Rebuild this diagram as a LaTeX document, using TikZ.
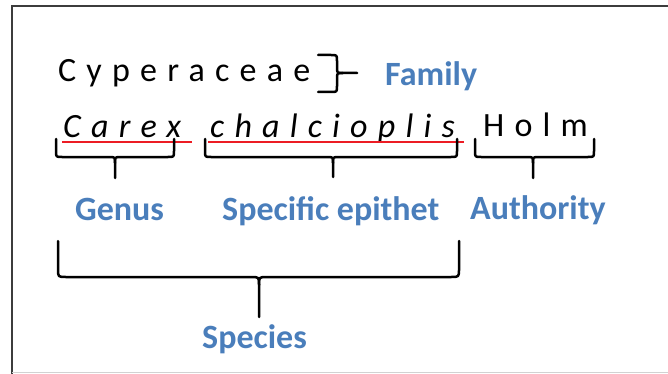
\documentclass[tikz,border=0pt]{standalone}
\usepackage{fontspec}
\setmainfont{Carlito}
\newfontfamily\spacedfont[LetterSpace=30]{Carlito}
\definecolor{labelblue}{RGB}{74,126,187}
\definecolor{markred}{RGB}{236,28,36}
\definecolor{framedark}{RGB}{60,60,60}
\definecolor{framelight}{RGB}{210,210,210}

% downward brace: left x, right x, top y, bar y, tip x, tip y, corner radius
\newcommand\downbrace[7]{%
  \draw[brace] (#1,#3) -- (#1,#4-#7) .. controls (#1,#4) .. (#1+#7,#4)
    -- (#5-#7,#4) .. controls (#5,#4) .. (#5,#4+#7) -- (#5,#6);
  \draw[brace] (#2,#3) -- (#2,#4-#7) .. controls (#2,#4) .. (#2-#7,#4)
    -- (#5+#7,#4) .. controls (#5,#4) .. (#5,#4+#7);
}

\begin{document}
\begin{tikzpicture}[x=1pt,y=-1pt,
  word/.style={inner sep=0pt,anchor=base west,
    font=\spacedfont\fontsize{34}{40}\selectfont},
  slanted/.style={word,font=\spacedfont\itshape\fontsize{34}{40}\selectfont},
  label/.style={inner sep=0pt,anchor=base west,text=labelblue,
    font=\bfseries\fontsize{34}{40}\selectfont},
  brace/.style={draw=black,line width=2.5pt,line cap=round,line join=round},
  underline/.style={draw=markred,line width=2.6pt}]
\useasboundingbox (0,0) rectangle (668,374);

% frame
\draw[framedark,line width=2.4pt] (12,374) -- (12,6) -- (668,6);
\draw[framelight,line width=1.5pt] (12,372.5) -- (668,372.5);

% names
\node[word] (fam) at (58,82) {Cyperaceae};
\node[slanted] (gen) at (63,138) {Carex};
\node[slanted] (epi) at (210,138) {chalcioplis};
\node[word] (auth) at (483,137) {Holm};

% red underlines
\coordinate (gu1) at (62,142); \coordinate (gu2) at (192,142);
\coordinate (eu1) at (208,142); \coordinate (eu2) at (464,142);
\draw[underline] (gu1) -- (gu2);
\draw[underline] (eu1) -- (eu2);

% family brace (points right)
\draw[brace] (318,55) -- (331,55) .. controls (337,55) .. (337,61) -- (337,67)
  .. controls (337,73) .. (343,73) -- (357,73);
\draw[brace] (318,92) -- (331,92) .. controls (337,92) .. (337,86) -- (337,79)
  .. controls (337,73) .. (343,73);

% lower braces
\downbrace{56}{174}{139}{157}{115}{178}{6}
\downbrace{205}{457}{139}{157}{333}{177}{6}
\downbrace{475}{594}{139}{157}{533}{178}{6}
\downbrace{58}{459}{241}{277}{259}{317}{8}

% labels
\node[label] (lfam) at (385,86) {Family};
\node[label] (lgen) at (75,220) {Genus};
\node[label] (lepi) at (222,220) {Specific epithet};
\node[label] (lauth) at (470,219) {Authority};
\node[label] (lspe) at (202,348) {Species};
\end{tikzpicture}
\end{document}
